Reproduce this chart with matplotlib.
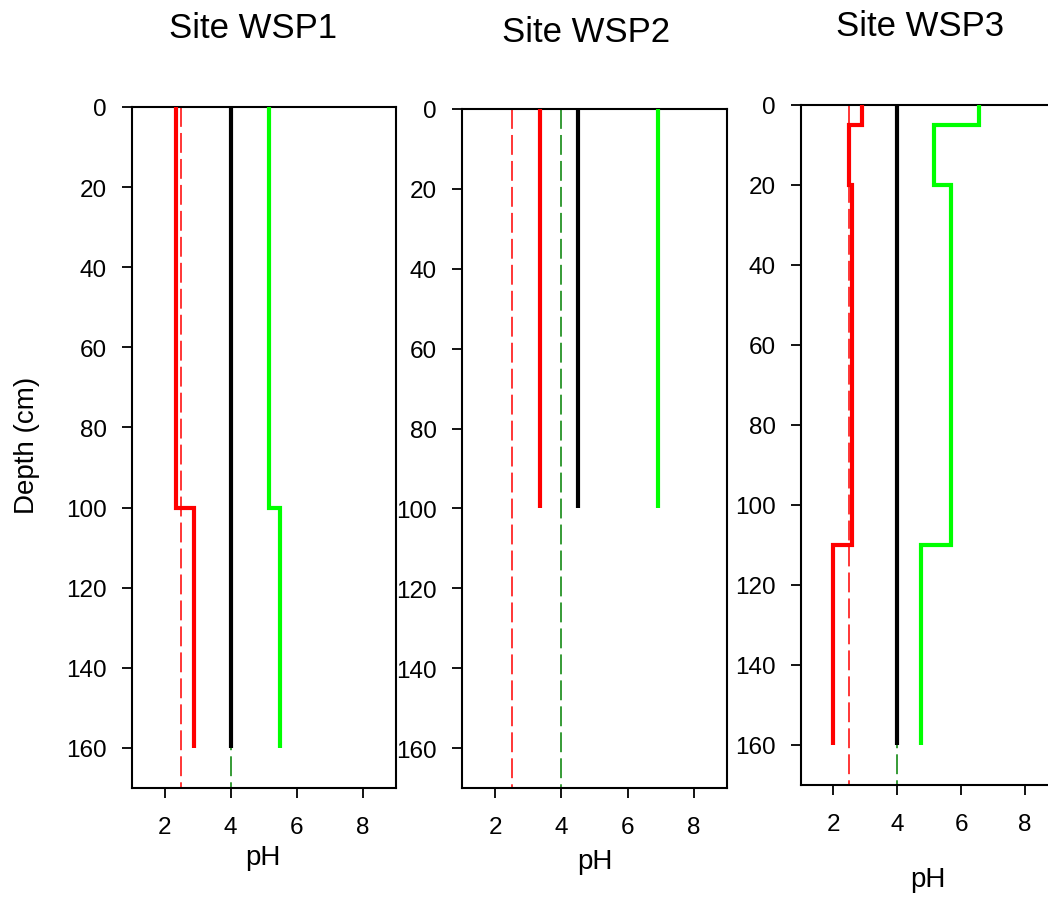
import matplotlib
matplotlib.use('Agg')
import matplotlib.pyplot as plt

plt.rcParams['font.family'] = ['Liberation Sans', 'DejaVu Sans']

# site names
sites = ['Site WSP1', 'Site WSP2', 'Site WSP3']

# depth boundaries (cm) for each site profile
depth_1 = [0, 100, 160]
depth_2 = [0, 100]
depth_3 = [0, 5, 20, 110, 160]

# pH values per layer
red_1 = [2.33, 2.9]
black_1 = [4.0, 4.0]
green_1 = [5.16, 5.5]

red_2 = [3.36]
black_2 = [4.5]
green_2 = [6.92]

red_3 = [2.9, 2.5, 2.6, 2.0]
black_3 = [4.0, 4.0, 4.0, 4.0]
green_3 = [6.55, 5.15, 5.7, 4.75]

# reference lines (pH)
ref_red = 2.5
ref_green = 4.0
ref_depth = [0, 170]

profiles = [
    (depth_1, red_1, black_1, green_1),
    (depth_2, red_2, black_2, green_2),
    (depth_3, red_3, black_3, green_3),
]

W, H = 1048, 903
fig = plt.figure(figsize=(W / 100, H / 100), dpi=100)

# axes boxes in pixels: left, top, right, bottom
boxes = [(131.7, 108, 395.7, 789), (462, 110, 727, 789), (801, 106, 1057, 786)]
title_pos = [(253, 28), (586, 32), (920, 27)]
xlabel_pos = [(263, 858), (595, 862), (928, 880)]

for i, (depth, red, black, green) in enumerate(profiles):
    l, t, r, b = boxes[i]
    ax = fig.add_axes([l / W, 1 - b / H, (r - l) / W, (b - t) / H])

    ax.plot([ref_red, ref_red], ref_depth, color='#ff0000', lw=1.1, dashes=(13, 4), zorder=1)
    ax.plot([ref_green, ref_green], ref_depth, color='#008000', lw=1.1, dashes=(13, 4), zorder=1)

    ax.stairs(red, depth, orientation='horizontal', baseline=None, color='#ff0000', lw=3, zorder=3)
    ax.stairs(black, depth, orientation='horizontal', baseline=None, color='black', lw=3, zorder=3)
    ax.stairs(green, depth, orientation='horizontal', baseline=None, color='#00ff00', lw=3, zorder=3)

    ax.set_xlim(1, 9)
    ax.set_ylim(170, 0)
    ax.set_xticks([2, 4, 6, 8])
    ax.set_yticks(range(0, 161, 20))
    ax.tick_params(direction='out', length=7.5, width=1.3, labelsize=17.5, pad=10.5)
    ax.tick_params(axis='x', pad=12.5)
    for s in ax.spines.values():
        s.set_linewidth(1.5)

    fig.text(title_pos[i][0] / W, 1 - title_pos[i][1] / H, sites[i],
             fontsize=25, ha='center', va='center')
    fig.text(xlabel_pos[i][0] / W, 1 - xlabel_pos[i][1] / H, 'pH',
             fontsize=20, ha='center', va='center')

fig.text(27 / W, 1 - 445 / H, 'Depth (cm)', fontsize=20, rotation=90,
         ha='center', va='center')

fig.savefig('out.png', dpi=100)
